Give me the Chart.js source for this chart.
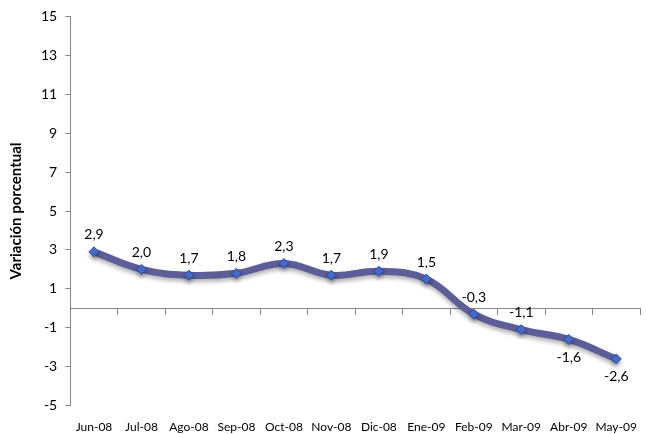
<!DOCTYPE html>
<html>
<head>
<meta charset="utf-8">
<script src="https://cdn.jsdelivr.net/npm/chart.js@4"></script>
<style>
  html, body { margin: 0; padding: 0; background: #fff; }
  #wrap { width: 646px; height: 434px; }
</style>
</head>
<body>
<div id="wrap"><canvas id="chart" width="646" height="434"></canvas></div>
<script>
const months = ['Jun-08', 'Jul-08', 'Ago-08', 'Sep-08', 'Oct-08', 'Nov-08', 'Dic-08', 'Ene-09', 'Feb-09', 'Mar-09', 'Abr-09', 'May-09'];
const variacion = [2.9, 2.0, 1.7, 1.8, 2.3, 1.7, 1.9, 1.5, -0.3, -1.1, -1.6, -2.6];
const yTicks = [-5, -3, -1, 1, 3, 5, 7, 9, 11, 13, 15];

const chartFont = 'Lato';
const axisGray = '#868686';

// valores sobre cada punto, con coma decimal
const pointLabels = {
    id: 'pointLabels',
    afterDatasetsDraw(chart, args, opts) {
        const ctx = chart.ctx;
        const meta = chart.getDatasetMeta(0);
        ctx.save();
        ctx.font = '14px ' + chartFont;
        ctx.fillStyle = '#000';
        ctx.textAlign = 'center';
        ctx.textBaseline = 'middle';
        meta.data.forEach((pt, i) => {
            const txt = variacion[i].toFixed(1).replace('.', ',');
            const dy = opts.below.includes(i) ? 18 : -17;
            ctx.fillText(txt, pt.x, pt.y + dy);
        });
        ctx.restore();
    }
};

// sombra suave bajo la linea
const lineShadow = {
    id: 'lineShadow',
    beforeDatasetDraw(chart) {
        const ctx = chart.ctx;
        ctx.save();
        ctx.shadowColor = 'rgba(0,0,0,0.3)';
        ctx.shadowBlur = 4;
        ctx.shadowOffsetY = 3;
    },
    afterDatasetDraw(chart) {
        chart.ctx.restore();
    }
};

new Chart(document.getElementById('chart'), {
    type: 'line',
    data: {
        labels: months,
        datasets: [{
            data: variacion,
            borderColor: '#5d5d98',
            borderWidth: 7,
            tension: 0.4,
            pointStyle: 'rectRot',
            pointRadius: 5,
            pointHoverRadius: 5,
            pointBackgroundColor: '#4a6fd0',
            pointBorderColor: '#2d4b9c',
            pointBorderWidth: 1,
            xAxisID: 'x'
        }]
    },
    options: {
        responsive: false,
        animation: false,
        layout: {
            padding: { top: 15, right: 1, bottom: 0, left: 7 }
        },
        scales: {
            x: {
                type: 'category',
                position: 'bottom',
                offset: true,
                border: { display: false },
                grid: {
                    drawOnChartArea: false,
                    drawTicks: true,
                    tickLength: 14,
                    color: 'rgba(0,0,0,0)'
                },
                ticks: {
                    padding: 0,
                    color: '#000',
                    maxRotation: 0,
                    autoSkip: false,
                    font: { family: chartFont, size: 12 }
                }
            },
            x0: {
                type: 'category',
                position: { y: 0 },
                offset: true,
                border: { display: true, color: axisGray, width: 1 },
                grid: {
                    offset: true,
                    drawOnChartArea: false,
                    drawTicks: true,
                    tickLength: 6,
                    color: axisGray
                },
                ticks: { display: false }
            },
            y: {
                min: -5,
                max: 15,
                afterBuildTicks: scale => {
                    scale.ticks = yTicks.map(v => ({ value: v }));
                },
                border: { display: true, color: axisGray, width: 1 },
                grid: {
                    drawOnChartArea: false,
                    drawTicks: true,
                    tickLength: 5,
                    color: axisGray
                },
                ticks: {
                    padding: 8,
                    color: '#000',
                    font: { family: chartFont, size: 14 }
                },
                title: {
                    display: true,
                    text: 'Variación porcentual',
                    color: '#000',
                    padding: { top: 0, bottom: 8 },
                    font: { family: chartFont, size: 15, weight: 'bold' }
                }
            }
        },
        plugins: {
            legend: { display: false },
            tooltip: { enabled: false },
            pointLabels: { below: [10, 11] }
        }
    },
    plugins: [lineShadow, pointLabels]
});
</script>
</body>
</html>
